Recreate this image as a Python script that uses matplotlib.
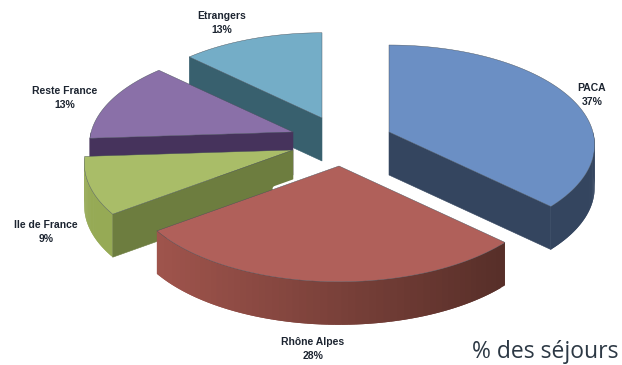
import numpy as np
import matplotlib
matplotlib.use('Agg')
import matplotlib.pyplot as plt
from matplotlib.colors import to_rgb

# data, clockwise from the top of the pie
categories = ['PACA', 'Rhône Alpes', 'Ile de France', 'Reste France', 'Etrangers']
percents = [37, 28, 9, 13, 13]
title = '% des séjours'

# look of each slice, in the same order
top_colors = ['#6b8fc4', '#b0605a', '#a9bd68', '#8a70a8', '#74adc7']
side_colors = ['#34455f', '#5a2f28', '#6d7d3f', '#46335c', '#38606e']
rim_left = ['#34455f', '#a5574f', '#96aa55', '#46335c', '#38606e']
rim_right = ['#34455f', '#4e2a24', '#96aa55', '#46335c', '#38606e']
centers = [(389, 132), (339, 166), (293, 150), (293, 132), (322, 118)]
scales = [0.99, 1.015, 1.005, 0.98, 0.97]
label_pos = [(592, 95), (313, 349), (46, 232), (65, 98), (222, 23)]
draw_order = [4, 0, 3, 2, 1]

RX, RY = 206, 101
PERSP = 0.13
DEPTH = 43


def project(center, theta, scale=1.0):
    # circle point seen with a bit of perspective, front part gets bigger
    k = (1 - PERSP * np.cos(theta)) * scale
    return center[0] + RX * np.sin(theta) * k, center[1] - RY * np.cos(theta) * k


def mix(c1, c2, t):
    c1, c2 = np.array(to_rgb(c1)), np.array(to_rgb(c2))
    return tuple(c1 + (c2 - c1) * t)


fig = plt.figure(figsize=(6.22, 3.65), dpi=100)
ax = fig.add_axes([0, 0, 1, 1])
ax.set_xlim(0, 622)
ax.set_ylim(365, 0)
ax.set_axis_off()

edges = np.cumsum([0] + percents) / sum(percents) * 2 * np.pi

for i in draw_order:
    t0, t1 = edges[i], edges[i + 1]
    c = centers[i]
    s = scales[i]
    z = draw_order.index(i) * 4
    ts = np.linspace(t0, t1, 80)
    xs, ys = project(c, ts, s)

    # outer rim, only the part turned to the viewer
    a, b = max(t0, np.pi / 2), min(t1, 3 * np.pi / 2)
    if b > a:
        rim = np.linspace(a, b, 60)
        rx, ry = project(c, rim, s)
        left, right = project(c, 3 * np.pi / 2, s)[0], project(c, np.pi / 2, s)[0]
        for j in range(len(rim) - 1):
            # quads overlap the next one, otherwise seams show up
            n = min(j + 2, len(rim) - 1)
            t = ((rx[j] + rx[j + 1]) / 2 - left) / (right - left)
            col = mix(rim_left[i], rim_right[i], t)
            ax.fill([rx[j], rx[n], rx[n], rx[j]],
                    [ry[j], ry[n], ry[n] + DEPTH, ry[j] + DEPTH],
                    color=col, lw=0, zorder=z + 1)

    # flat cut faces
    for ang, normal in [(t0, t0 - np.pi / 2), (t1, t1 + np.pi / 2)]:
        if np.cos(normal) < -1e-6:
            ex, ey = project(c, ang, s)
            ax.fill([c[0], ex, ex, c[0]], [c[1], ey, ey + DEPTH, c[1] + DEPTH],
                    color=side_colors[i], lw=0.4, zorder=z + 2)

    # thin white glow near the tip of the red slice
    if i == 1:
        ex, ey = project(c, t1, s)
        ax.plot([c[0], c[0] + (ex - c[0]) * 0.35], [c[1], c[1] + (ey - c[1]) * 0.35],
                color='white', lw=4, solid_capstyle='round', zorder=z)

    # top of the slice
    ax.fill(np.r_[c[0], xs], np.r_[c[1], ys], facecolor=top_colors[i],
            edgecolor='#46505a', lw=0.3, zorder=z + 3)

    ax.text(label_pos[i][0], label_pos[i][1], '{}\n{}%'.format(categories[i], percents[i]),
            ha='center', va='center', fontsize=7.5, color='#1c2430',
            family='Liberation Sans', fontweight='bold', linespacing=1.4, zorder=30)

ax.text(618, 352, title, ha='right', va='center', fontsize=16.5, color='#2c3844',
        family='Open Sans', zorder=30)

fig.savefig('out.png', dpi=100)
